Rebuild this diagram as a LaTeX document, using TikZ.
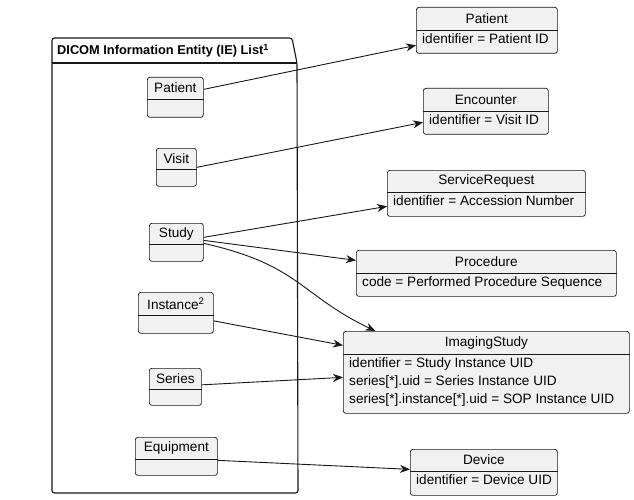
\documentclass[tikz,border=0pt]{standalone}
\usepackage{fontspec}
\setmainfont{Liberation Sans}
\usetikzlibrary{calc,arrows.meta}
\definecolor{boxfill}{HTML}{F1F1F1}
\definecolor{edge}{HTML}{181818}
\newcommand\umlbox[8]{%
  \node[box,minimum width=#4pt,minimum height=#5pt,anchor=north west] (#1) at (#2,#3) {};
  \draw[edge,line width=0.7pt] ([yshift=-#6pt]#1.north west) -- ([yshift=-#6pt]#1.north east);
  \node[txt] (#1t) at ([yshift=-0.5*#6pt]#1.north) {#7};
  \node[txt,anchor=north west,align=left] (#1b) at ([xshift=4pt,yshift=-#6pt-1pt]#1.north west) {#8};
}
\begin{document}
\begin{tikzpicture}[x=1pt,y=-1pt,
  box/.style={draw=edge,fill=boxfill,rounded corners=2.5pt,line width=0.7pt,inner sep=0pt},
  txt/.style={inner sep=2pt,font=\fontsize{13.6}{18}\selectfont,text=black},
  conn/.style={draw=edge,line width=0.9pt,-{Stealth[length=10pt,width=8pt]}}]
\useasboundingbox[fill=white] (0,0) rectangle (634,500);
% package
\draw[edge,line width=1.1pt,rounded corners=2.5pt] (52,63) -- (52,38) -- (292,38) -- (297,63) -- (298,493) -- (52,493) -- cycle;
\draw[edge,line width=1.1pt] (52,63) -- (297,63);
\node[txt,font=\fontsize{12.8}{14}\selectfont\bfseries,anchor=west,inner sep=1pt] (pkg) at (56,51) {DICOM Information Entity (IE) List\textsuperscript{1}};
% left boxes
\umlbox{lpat}{147}{77}{56}{40}{22}{Patient}{}
\umlbox{lvis}{156}{148}{40}{38}{21}{Visit}{}
\umlbox{lstu}{149}{223}{54}{38}{21}{Study}{}
\umlbox{lins}{138}{292}{75}{41}{23}{Instance\textsuperscript{2}}{}
\umlbox{lser}{149}{368}{52}{37}{21}{Series}{}
\umlbox{lequ}{135}{437}{82}{38}{22}{Equipment}{}
% right boxes
\umlbox{rpat}{416}{7}{141}{46}{23}{Patient}{identifier = Patient ID}
\umlbox{renc}{423}{88}{125}{46}{23}{Encounter}{identifier = Visit ID}
\umlbox{rsr}{387}{170}{198}{46}{22}{ServiceRequest}{identifier = Accession Number}
\umlbox{rpro}{356}{250}{260}{46}{23}{Procedure}{code = Performed Procedure Sequence}
\umlbox{rimg}{343}{331}{286}{82}{23}{ImagingStudy}{identifier = Study Instance UID\\series[*].uid = Series Instance UID\\series[*].instance[*].uid = SOP Instance UID}
\umlbox{rdev}{410}{449}{147}{46}{22}{Device}{identifier = Device UID}
% connectors
\draw[conn] ([yshift=8pt]lpat.east) -- ([yshift=-15pt]rpat.west);
\draw[conn] ([yshift=0pt]lvis.east) -- ([yshift=-11pt]renc.west);
\draw[conn] ([yshift=5pt]lstu.east) -- ([yshift=-13pt]rsr.west);
\draw[conn] ([yshift=2pt]lstu.east) -- ([yshift=13pt]rpro.west);
\draw[conn] ([yshift=-1pt]lstu.east) .. controls (300,265) and (300,295) .. ([xshift=-111pt]rimg.north);
\draw[conn] ([yshift=-8pt]lins.east) -- ([yshift=27pt]rimg.west);
\draw[conn] ([yshift=2pt]lser.east) -- ([yshift=-5pt]rimg.west);
\draw[conn] ([yshift=-4pt]lequ.east) -- ([yshift=3pt]rdev.west);
\end{tikzpicture}
\end{document}
